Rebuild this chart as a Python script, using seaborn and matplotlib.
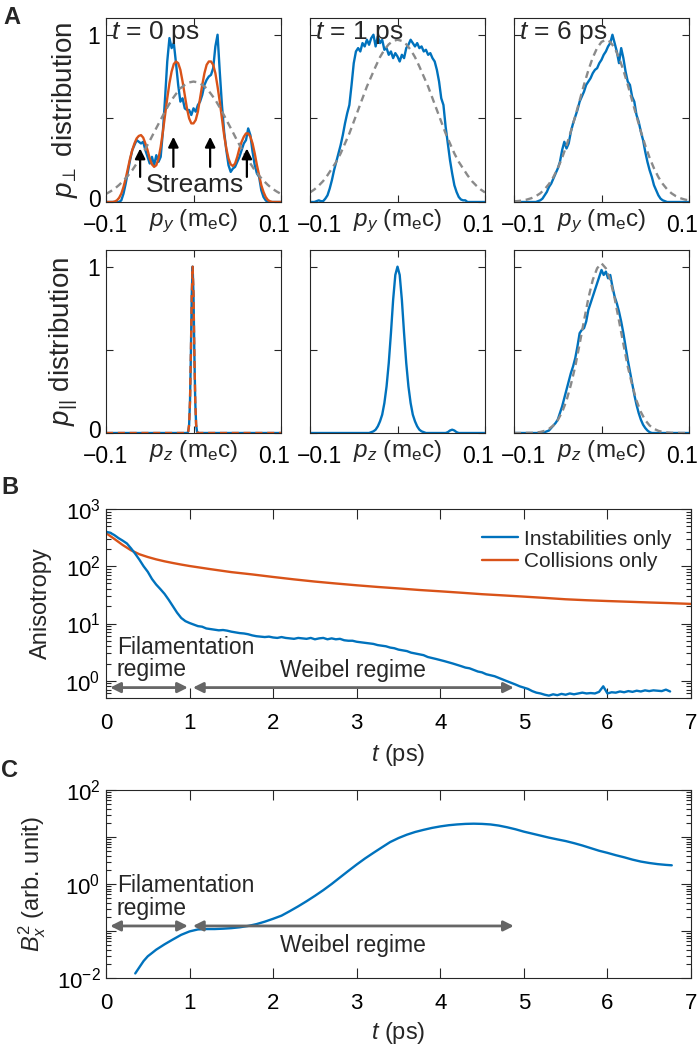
import numpy as np
import matplotlib
matplotlib.use("Agg")
import matplotlib.pyplot as plt
import seaborn as sns
from matplotlib import ticker
from matplotlib.transforms import ScaledTranslation

# ---------------------------------------------------------------- data
p_fine = np.round(np.linspace(-0.1, 0.1, 81), 4)    # momentum grid, step 0.0025
p_coarse = np.round(np.linspace(-0.1, 0.1, 41), 4)  # momentum grid, step 0.005

py_t0_sim = [0, 0, 0, 0, 0, 0, 0, 0.01, 0.05, 0.11,
             0.18, 0.25, 0.31, 0.34, 0.37, 0.36, 0.35, 0.36, 0.31, 0.27,
             0.23, 0.27, 0.22, 0.28, 0.24, 0.27, 0.42, 0.62, 0.84, 0.98,
             0.92, 0.95, 0.83, 0.70, 0.60, 0.62, 0.56, 0.55, 0.55, 0.52,
             0.56, 0.54, 0.58, 0.60, 0.64, 0.70, 0.73, 0.75, 0.76, 0.80,
             0.93, 1.00, 0.78, 0.58, 0.42, 0.31, 0.22, 0.18, 0.20, 0.21,
             0.24, 0.27, 0.31, 0.35, 0.37, 0.44, 0.40, 0.30, 0.22, 0.17,
             0.15, 0.07, 0.03, 0.01, 0, 0, 0, 0, 0, 0,
             0]
py_t0_model = [0, 0, 0, 0, 0.003, 0.01, 0.025, 0.05, 0.09, 0.14,
               0.20, 0.26, 0.31, 0.35, 0.38, 0.395, 0.40, 0.385, 0.35, 0.31,
               0.26, 0.225, 0.21, 0.22, 0.26, 0.33, 0.42, 0.52, 0.62, 0.71,
               0.78, 0.825, 0.84, 0.83, 0.79, 0.72, 0.64, 0.56, 0.50, 0.47,
               0.47, 0.49, 0.54, 0.62, 0.70, 0.77, 0.82, 0.84, 0.84, 0.82,
               0.77, 0.69, 0.60, 0.50, 0.40, 0.32, 0.26, 0.225, 0.215, 0.23,
               0.27, 0.32, 0.36, 0.39, 0.41, 0.41, 0.39, 0.35, 0.29, 0.22,
               0.16, 0.10, 0.06, 0.03, 0.012, 0.004, 0, 0, 0, 0,
               0]
py_t0_maxw = [0.048, 0.063, 0.08, 0.102, 0.128, 0.157, 0.19, 0.23, 0.272, 0.318,
              0.366, 0.417, 0.467, 0.517, 0.565, 0.61, 0.646, 0.68, 0.70, 0.715,
              0.72,
              0.715, 0.70, 0.68, 0.646, 0.61, 0.565, 0.517, 0.467, 0.417, 0.366,
              0.318, 0.272, 0.23, 0.19, 0.157, 0.128, 0.102, 0.08, 0.063, 0.048]

py_t1_sim = [0, 0, 0, 0.005, 0.01, 0.005, 0.005, 0.02, 0.04, 0.08,
             0.13, 0.19, 0.24, 0.29, 0.34, 0.40, 0.47, 0.53, 0.58, 0.70,
             0.83, 0.90, 0.92, 0.90, 0.95, 0.93, 0.97, 0.94, 0.98, 1.00,
             0.93, 0.99, 0.95, 0.97, 0.91, 0.92, 0.88, 0.90, 0.86, 0.89,
             0.87, 0.84, 0.88, 0.86, 0.92, 0.94, 0.97, 0.95, 0.93, 0.95,
             0.92, 0.93, 0.90, 0.91, 0.88, 0.89, 0.86, 0.84, 0.79, 0.72,
             0.62, 0.58, 0.45, 0.35, 0.25, 0.17, 0.10, 0.06, 0.03, 0.015,
             0.01, 0.01, 0, 0, 0, 0, 0, 0, 0, 0,
             0]
py_t1_maxw = [0.057, 0.075, 0.098, 0.125, 0.16, 0.20, 0.24, 0.29, 0.35, 0.41,
              0.48, 0.55, 0.62, 0.69, 0.75, 0.81, 0.866, 0.91, 0.943, 0.963,
              0.97,
              0.963, 0.943, 0.91, 0.866, 0.81, 0.75, 0.69, 0.62, 0.55, 0.48,
              0.41, 0.35, 0.29, 0.24, 0.20, 0.16, 0.125, 0.098, 0.075, 0.057]

py_t6_sim = [0, 0, 0, 0, 0, 0, 0, 0, 0, 0,
             0, 0.005, 0.01, 0.02, 0.04, 0.06, 0.09, 0.11, 0.14, 0.17,
             0.20, 0.24, 0.31, 0.36, 0.32, 0.35, 0.42, 0.47, 0.51, 0.55,
             0.60, 0.63, 0.66, 0.70, 0.72, 0.74, 0.77, 0.79, 0.80, 0.83,
             0.85, 0.88, 0.90, 0.93, 0.95, 1.00, 0.95, 0.90, 0.83, 0.92,
             0.86, 0.78, 0.72, 0.70, 0.63, 0.60, 0.52, 0.48, 0.42, 0.37,
             0.30, 0.24, 0.19, 0.15, 0.10, 0.07, 0.04, 0.02, 0.01, 0.005,
             0, 0, 0, 0, 0, 0, 0, 0, 0, 0,
             0]
py_t6_maxw = [0.004, 0.006, 0.009, 0.015, 0.023, 0.035, 0.052, 0.076, 0.108, 0.149,
              0.201, 0.264, 0.338, 0.422, 0.513, 0.607, 0.701, 0.788, 0.863, 0.921,
              0.957, 0.97, 0.957, 0.921, 0.863, 0.788, 0.701, 0.607, 0.513, 0.422,
              0.338, 0.264, 0.201, 0.149, 0.108, 0.076, 0.052, 0.035, 0.023, 0.015,
              0.009]

pz_t0_x = [-0.1, -0.007, -0.006, -0.005, -0.004, -0.003, -0.002, -0.001,
           0.0, 0.001, 0.002, 0.003, 0.004, 0.005, 0.1]
pz_t0_sim = [0, 0, 0.01, 0.05, 0.19, 0.47, 0.83, 1.0, 0.83, 0.47, 0.19, 0.05, 0.01, 0, 0]
pz_t0_model = [0, 0, 0.01, 0.05, 0.19, 0.47, 0.83, 1.0, 0.83, 0.47, 0.19, 0.05, 0.01, 0, 0]

pz_t1_sim = [0, 0, 0, 0, 0, 0, 0, 0, 0, 0,
             0, 0, 0, 0, 0, 0, 0, 0, 0, 0,
             0, 0, 0, 0, 0, 0, 0, 0, 0.005, 0.01,
             0.02, 0.04, 0.07, 0.11, 0.18, 0.28, 0.42, 0.60, 0.80, 0.95,
             1.00, 0.95, 0.80, 0.60, 0.42, 0.28, 0.18, 0.11, 0.07, 0.04,
             0.02, 0.01, 0.005, 0, 0, 0, 0, 0, 0, 0,
             0, 0, 0, 0.005, 0.015, 0.02, 0.015, 0.005, 0, 0,
             0, 0, 0, 0, 0, 0, 0, 0, 0, 0,
             0]

pz_t6_sim = [0, 0, 0, 0, 0, 0, 0, 0, 0, 0,
             0, 0, 0.005, 0, 0.005, 0.01, 0.015, 0.03, 0.045, 0.06,
             0.08, 0.12, 0.16, 0.21, 0.26, 0.31, 0.36, 0.40, 0.45, 0.52,
             0.60, 0.62, 0.63, 0.67, 0.74, 0.78, 0.82, 0.86, 0.90, 0.94,
             0.98, 0.95, 0.97, 0.93, 0.95, 0.88, 0.82, 0.78, 0.73, 0.67,
             0.60, 0.52, 0.44, 0.37, 0.30, 0.23, 0.17, 0.12, 0.08, 0.05,
             0.03, 0.015, 0.005, 0, 0, 0, 0, 0, 0, 0,
             0, 0, 0, 0, 0, 0, 0, 0, 0, 0,
             0]
pz_t6_maxw = [0, 0, 0, 0.001, 0.001, 0.003, 0.006, 0.013, 0.025, 0.045,
              0.077, 0.126, 0.195, 0.29, 0.40, 0.535, 0.675, 0.81, 0.92, 0.99,
              1.02,
              0.99, 0.92, 0.81, 0.675, 0.535, 0.40, 0.29, 0.195, 0.126, 0.077,
              0.045, 0.025, 0.013, 0.006, 0.003, 0.001, 0.001, 0, 0, 0]

stream_x = [-0.061, -0.023, 0.019, 0.061]
stream_tail = [0.15, 0.21, 0.21, 0.15]
stream_head = [0.32, 0.39, 0.39, 0.32]

t_instab = np.round(np.arange(136) * 0.05, 2)
aniso_instab = [400, 385, 350, 310, 280, 250, 205, 165, 130, 100,
                80, 60, 48, 40, 33, 26, 20, 15.5, 12.5, 11,
                10.2, 9.6, 9.0, 8.8, 8.2, 8.0, 7.8, 7.6, 7.7, 7.5,
                7.2, 7.0, 6.8, 6.7, 6.5, 6.2, 6.0, 5.9, 5.8, 5.9,
                5.7, 5.6, 5.8, 5.6, 5.5, 5.4, 5.6, 5.5, 5.4, 5.6,
                5.3, 5.5, 5.6, 5.3, 5.5, 5.3, 5.4, 5.1, 5.0, 5.0,
                4.8, 4.7, 4.6, 4.5, 4.4, 4.2, 4.1, 4.0, 3.8, 3.7,
                3.5, 3.4, 3.3, 3.1, 3.0, 2.9, 2.8, 2.6, 2.5, 2.4,
                2.3, 2.2, 2.1, 2.0, 1.9, 1.8, 1.7, 1.65, 1.55, 1.45,
                1.4, 1.3, 1.25, 1.2, 1.12, 1.05, 0.98, 0.92, 0.86, 0.80,
                0.76, 0.72, 0.66, 0.62, 0.60, 0.57, 0.55, 0.58, 0.56, 0.59,
                0.57, 0.60, 0.58, 0.60, 0.62, 0.60, 0.61, 0.60, 0.64, 0.80,
                0.60, 0.63, 0.62, 0.65, 0.63, 0.66, 0.64, 0.67, 0.65, 0.68,
                0.66, 0.68, 0.67, 0.66, 0.70, 0.65]
t_coll = [0, 0.1, 0.2, 0.3, 0.4, 0.5, 0.6, 0.7, 0.8, 0.9, 1.0,
          1.25, 1.5, 1.75, 2.0, 2.25, 2.5, 2.75, 3.0, 3.25, 3.5, 3.75, 4.0,
          4.25, 4.5, 4.75, 5.0, 5.25, 5.5, 5.75, 6.0, 6.25, 6.5, 6.75, 7.0]
aniso_coll = [380, 300, 235, 190, 162, 145, 132, 122, 114, 107, 101,
              89, 79, 72, 65, 59, 54, 50, 46.5, 43.5, 41, 38.5, 36.5,
              34.5, 32.5, 31, 29.5, 28, 26.5, 25.5, 24.7, 24, 23.3, 22.7, 22]

t_bx = [0.35, 0.40, 0.45, 0.50, 0.55, 0.60, 0.70, 0.80, 0.90, 1.00,
        1.10, 1.20, 1.30, 1.40, 1.50, 1.60, 1.70, 1.80, 1.90, 2.00,
        2.10, 2.20, 2.30, 2.40, 2.50, 2.60, 2.70, 2.80, 2.90, 3.00,
        3.10, 3.20, 3.30, 3.40, 3.50, 3.60, 3.70, 3.80, 3.90, 4.00,
        4.10, 4.20, 4.30, 4.40, 4.50, 4.60, 4.70, 4.80, 4.90, 5.00,
        5.10, 5.20, 5.30, 5.40, 5.50, 5.60, 5.70, 5.80, 5.90, 6.00,
        6.10, 6.20, 6.30, 6.40, 6.50, 6.60, 6.70, 6.77]
bx2 = [0.0125, 0.017, 0.023, 0.029, 0.034, 0.040, 0.052, 0.066, 0.083, 0.098,
       0.108, 0.110, 0.110, 0.112, 0.115, 0.120, 0.128, 0.140, 0.158, 0.182,
       0.212, 0.265, 0.335, 0.430, 0.560, 0.740, 1.00, 1.38, 1.90, 2.60,
       3.50, 4.60, 6.00, 7.80, 9.50, 11.2, 12.8, 14.2, 15.6, 16.8,
       17.8, 18.5, 19.0, 19.2, 19.0, 18.5, 17.5, 16.1, 14.6, 13.0,
       11.8, 10.7, 9.7, 8.9, 8.2, 7.4, 6.6, 5.8, 5.1, 4.6,
       4.1, 3.7, 3.3, 3.0, 2.8, 2.65, 2.55, 2.50]

fil_span = (0.05, 0.98)
wei_span = (1.04, 4.88)

ps_ticks = [-0.1, 0, 0.1]
ps_ticklabels = ["\u22120.1", "", "0.1"]
dist_ticks = [0, 0.5, 1]
dist_ticklabels = ["0", "", "1"]
time_titles = [r"$t$ = 0 ps", r"$t$ = 1 ps", r"$t$ = 6 ps"]
time_ticks = list(range(8))

# ---------------------------------------------------------------- style
BLUE = "#0072BD"
ORANGE = "#D95319"
GRAY = "#8a8a8a"
ARROW = "#666666"
AXC = "#262626"
DASH = (0, (3.0, 2.0))
LW = 1.7

sns.set_theme(style="ticks")
plt.rcParams["font.family"] = ["Liberation Sans", "DejaVu Sans"]
plt.rcParams["mathtext.fontset"] = "custom"
plt.rcParams["mathtext.rm"] = "Liberation Sans"
plt.rcParams["mathtext.it"] = "Liberation Sans:italic"
plt.rcParams["mathtext.bf"] = "Liberation Sans:bold"
plt.rcParams["mathtext.sf"] = "Liberation Sans"
plt.rcParams["mathtext.fallback"] = "stixsans"
plt.rcParams["axes.unicode_minus"] = True

fig = plt.figure(figsize=(7, 10.48), dpi=100)
W, H = 700.0, 1048.0


def rect(x0, y0, x1, y1):
    return [x0 / W, 1 - y1 / H, (x1 - x0) / W, (y1 - y0) / H]


cols = [(106, 281), (310, 485), (514, 689)]
top_axes = [fig.add_axes(rect(c0, 18, c1, 202)) for c0, c1 in cols]
bot_axes = [fig.add_axes(rect(c0, 250, c1, 433)) for c0, c1 in cols]
axB = fig.add_axes(rect(106, 509, 691, 698))
axC = fig.add_axes(rect(106, 790, 691, 978))


def line(ax, x, y, color, ls="-", z=2, label=None, lw=LW):
    sns.lineplot(x=np.asarray(x, float), y=np.asarray(y, float), ax=ax, color=color,
                 linewidth=lw, linestyle=ls, zorder=z, label=label, legend=False,
                 estimator=None, sort=False)


def style_axes(ax, major, minor, size, pad):
    for s in ax.spines.values():
        s.set_linewidth(0.8)
        s.set_color(AXC)
        s.set_zorder(5)
    ax.tick_params(axis="both", which="both", direction="in", top=True, right=True,
                   width=0.8, color=AXC, labelcolor="black", labelsize=size, pad=pad)
    ax.tick_params(which="major", length=major)
    ax.tick_params(which="minor", length=minor)
    ax.grid(False)
    ax.set_facecolor("white")


def shift(label, dx_in, dy_in):
    label.set_transform(label.get_transform()
                        + ScaledTranslation(dx_in, dy_in, fig.dpi_scale_trans))


# ---------------------------------------------------------------- panel A
top_data = [(py_t0_sim, py_t0_model, py_t0_maxw),
            (py_t1_sim, None, py_t1_maxw),
            (py_t6_sim, None, py_t6_maxw)]
for i, ax in enumerate(top_axes):
    sim, model, maxw = top_data[i]
    line(ax, p_fine, sim, BLUE, z=2)
    if model is not None:
        line(ax, p_fine, model, ORANGE, z=3)
    line(ax, p_coarse, maxw, GRAY, ls=DASH, z=4)

line(bot_axes[0], pz_t0_x, pz_t0_sim, BLUE, z=2)
line(bot_axes[0], pz_t0_x, pz_t0_model, ORANGE, ls=DASH, z=3)
line(bot_axes[1], p_fine, pz_t1_sim, BLUE, z=2)
line(bot_axes[2], p_fine, pz_t6_sim, BLUE, z=2)
line(bot_axes[2], p_coarse, pz_t6_maxw, GRAY, ls=DASH, z=4)

for row, axes in enumerate([top_axes, bot_axes]):
    for i, ax in enumerate(axes):
        style_axes(ax, 5, 0, 16.5, 5)
        ax.tick_params(axis="x", pad=8.5)
        ax.tick_params(axis="y", pad=4)
        ax.set_xlim(-0.1, 0.1)
        ax.set_ylim(0, 1.1)
        ax.set_xticks(ps_ticks)
        ax.set_xticklabels(ps_ticklabels)
        ax.set_yticks(dist_ticks)
        if i == 0:
            ax.set_yticklabels(dist_ticklabels)
            shift(ax.yaxis.get_major_ticks()[0].label1, 0, 0.04)
        else:
            ax.set_yticklabels([])
        lab = r"$p_y$ (m$_\mathregular{e}$c)" if row == 0 else r"$p_z$ (m$_\mathregular{e}$c)"
        ax.set_xlabel(lab, fontsize=17.5)
        ax.xaxis.set_label_coords(0.5, -0.03)
        ax.set_ylabel("")
        # pull the end tick labels slightly inward as in the original
        ticks = ax.xaxis.get_major_ticks()
        shift(ticks[2].label1, -0.07, 0)
        if i > 0:
            shift(ticks[0].label1, 0.09, 0)

for i, ax in enumerate(top_axes):
    ax.text(0.03, 0.995, time_titles[i], transform=ax.transAxes, ha="left", va="top",
            fontsize=19, zorder=6)

top_axes[0].set_ylabel(r"$p_{\!\perp}$ distribution", fontsize=20)
top_axes[0].yaxis.set_label_coords(-0.15, 0.5)
bot_axes[0].set_ylabel(r"$p_{||}$ distribution", fontsize=20)
bot_axes[0].yaxis.set_label_coords(-0.15, 0.5)

for x, y0, y1 in zip(stream_x, stream_tail, stream_head):
    top_axes[0].annotate("", xy=(x, y1), xytext=(x, y0),
                         arrowprops=dict(arrowstyle="-|>", color="black", lw=1.6,
                                         mutation_scale=15, shrinkA=0, shrinkB=0),
                         zorder=6)
top_axes[0].text(0.002, 0.10, "Streams", ha="center", va="center", fontsize=19, zorder=6)

# ---------------------------------------------------------------- panel B
line(axB, t_instab, aniso_instab, BLUE, z=3, label="Instabilities only")
line(axB, t_coll, aniso_coll, ORANGE, z=2, label="Collisions only")
axB.set_yscale("log")
axB.set_xlim(0, 7)
axB.set_ylim(0.5, 1000)

# ---------------------------------------------------------------- panel C
line(axC, t_bx, bx2, BLUE, z=3)
axC.set_yscale("log")
axC.set_xlim(0, 7)
axC.set_ylim(0.01, 100)

for ax in (axB, axC):
    style_axes(ax, 7, 3.5, 16, 11)
    ax.set_xticks(time_ticks)
    ax.set_xticklabels([str(t) for t in time_ticks])
    ax.yaxis.set_major_locator(ticker.LogLocator(base=10, numticks=12))
    ax.yaxis.set_minor_locator(ticker.LogLocator(base=10, subs=np.arange(2, 10), numticks=12))
    ax.yaxis.set_minor_formatter(ticker.NullFormatter())
    ax.tick_params(axis="y", pad=4)
    ax.set_xlabel(r"$t$ (ps)", fontsize=17)

axC.yaxis.set_major_formatter(ticker.FuncFormatter(
    lambda v, p: (r"$\mathdefault{10^{%d}}$" % round(np.log10(v)))
    if round(np.log10(v)) % 2 == 0 else ""))

axB.xaxis.set_label_coords(0.5, -0.235)
axC.xaxis.set_label_coords(0.5, -0.225)
axB.set_ylabel("Anisotropy", fontsize=17)
axB.yaxis.set_label_coords(-0.092, 0.5)
axC.set_ylabel(r"$B_x^2$ (arb. unit)", fontsize=17)
axC.yaxis.set_label_coords(-0.1, 0.5)

axB.legend(loc="upper right", bbox_to_anchor=(0.966, 0.89), frameon=False, fontsize=15,
           handlelength=1.75, handletextpad=0.25, labelspacing=0.15, borderaxespad=0,
           borderpad=0)

arrow_props = dict(arrowstyle="<|-|>", color=ARROW, lw=2.0, mutation_scale=15,
                   shrinkA=0, shrinkB=0)
for ax, y_arr, y_fil, y_wei in ((axB, 0.76, 2.43, 1.5), (axC, 0.128, 0.53, 0.048)):
    ax.annotate("", xy=(fil_span[1], y_arr), xytext=(fil_span[0], y_arr),
                arrowprops=arrow_props, zorder=4)
    ax.annotate("", xy=(wei_span[1], y_arr), xytext=(wei_span[0], y_arr),
                arrowprops=arrow_props, zorder=4)
    ax.text(0.13, y_fil, "Filamentation\nregime", ha="left", va="center",
            fontsize=16.5, linespacing=0.95, zorder=6)
    ax.text(2.96, y_wei, "Weibel regime", ha="center", va="center",
            fontsize=16.5, zorder=6)

# ---------------------------------------------------------------- panel letters
fig.text(3 / W, 1 - 6 / H, "A", fontsize=17, fontweight="bold", ha="left", va="top")
fig.text(1 / W, 1 - 476 / H, "B", fontsize=17, fontweight="bold", ha="left", va="top")
fig.text(1 / W, 1 - 759 / H, "C", fontsize=17, fontweight="bold", ha="left", va="top")

fig.savefig("out.png", dpi=100)
